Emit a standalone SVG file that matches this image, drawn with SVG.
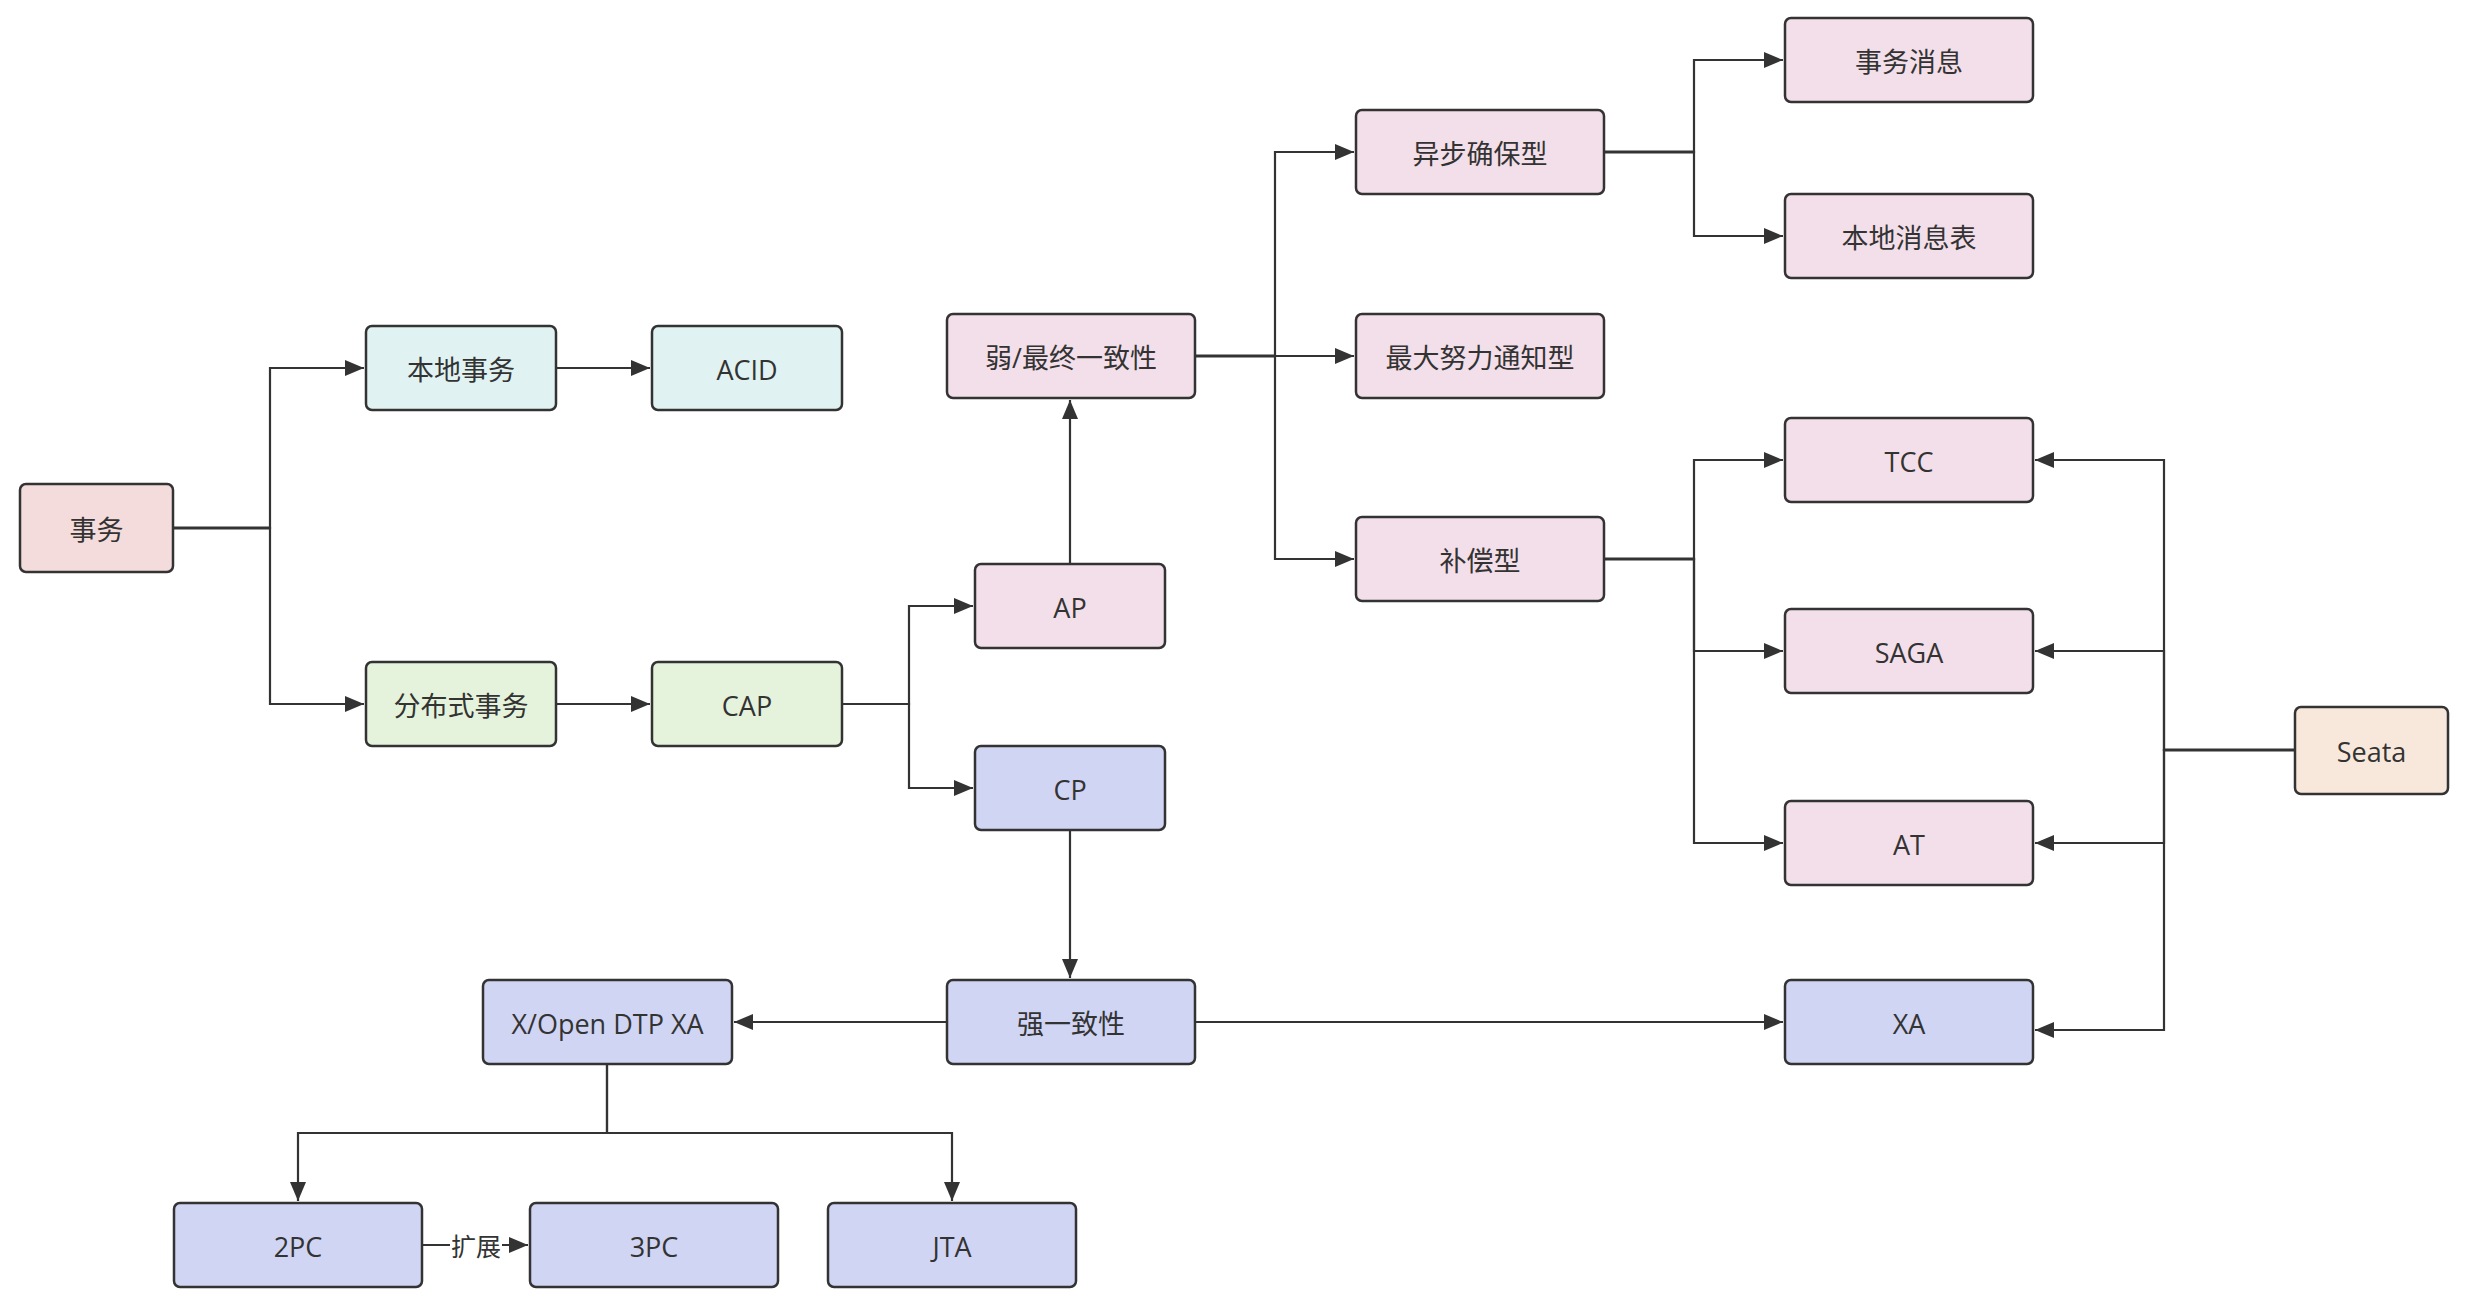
<svg xmlns="http://www.w3.org/2000/svg" width="2468" height="1304" viewBox="0 0 2468 1304">
<style>
.n rect{stroke:#333;stroke-width:2.5}
.n text{font-family:"Open Sans","Noto Sans CJK SC",sans-serif;font-size:27px;fill:#333;text-anchor:middle;dominant-baseline:central}
.red rect{fill:#f5dcdc}
.cyan rect{fill:#e0f3f2}
.green rect{fill:#e6f3dc}
.pink rect{fill:#f3dfea}
.blue rect{fill:#d1d5f4}
.tan rect{fill:#f8e8dc}
#edges path{fill:none;stroke:#333;stroke-width:2.2}
#edges path.trunk{stroke-width:3.2}
#edges text{font-family:"Noto Sans CJK SC",sans-serif;font-size:25px;fill:#333;text-anchor:middle;dominant-baseline:central}
</style>
<defs>
<marker id="ah" markerUnits="userSpaceOnUse" markerWidth="20" markerHeight="16" refX="19" refY="8" orient="auto">
<path d="M0,0 L19,8 L0,16 z" fill="#333"/>
</marker>
</defs>
<rect width="2468" height="1304" fill="#fff"/>
<g id="edges">
<path d="M173,528 H270 V368 H364" marker-end="url(#ah)"/>
<path d="M173,528 H270 V704 H364" marker-end="url(#ah)"/>
<path class="trunk" d="M174,528 H270"/>
<path d="M556,368 H650" marker-end="url(#ah)"/>
<path d="M556,704 H650" marker-end="url(#ah)"/>
<path d="M842,704 H909 V606 H973" marker-end="url(#ah)"/>
<path d="M842,704 H909 V788 H973" marker-end="url(#ah)"/>
<path d="M1070,564 V400" marker-end="url(#ah)"/>
<path d="M1195,356 H1275 V152 H1354" marker-end="url(#ah)"/>
<path d="M1195,356 H1354" marker-end="url(#ah)"/>
<path d="M1195,356 H1275 V559 H1354" marker-end="url(#ah)"/>
<path class="trunk" d="M1196,356 H1275"/>
<path d="M1604,152 H1694 V60 H1783" marker-end="url(#ah)"/>
<path d="M1604,152 H1694 V236 H1783" marker-end="url(#ah)"/>
<path class="trunk" d="M1605,152 H1694"/>
<path d="M1604,559 H1694 V460 H1783" marker-end="url(#ah)"/>
<path d="M1604,559 H1694 V651 H1783" marker-end="url(#ah)"/>
<path d="M1604,559 H1694 V843 H1783" marker-end="url(#ah)"/>
<path class="trunk" d="M1605,559 H1694"/>
<path d="M2295,750 H2164 V460 H2035" marker-end="url(#ah)"/>
<path d="M2295,750 H2164 V651 H2035" marker-end="url(#ah)"/>
<path d="M2295,750 H2164 V843 H2035" marker-end="url(#ah)"/>
<path d="M2295,750 H2164 V1030 H2035" marker-end="url(#ah)"/>
<path class="trunk" d="M2294,750 H2164"/>
<path d="M1070,829 V978" marker-end="url(#ah)"/>
<path d="M947,1022 H734" marker-end="url(#ah)"/>
<path d="M1195,1022 H1783" marker-end="url(#ah)"/>
<path d="M607,1064 V1133 H298 V1201" marker-end="url(#ah)"/>
<path d="M607,1064 V1133 H952 V1201" marker-end="url(#ah)"/>
<path d="M422,1245 H528" marker-end="url(#ah)"/>
<rect x="450" y="1230" width="52" height="30" fill="#fff"/>
<text x="476" y="1245">扩展</text>
</g>
<g id="n-shiwu" class="n red"><rect x="20" y="484" width="153" height="88" rx="6"/><text x="96.5" y="529">事务</text></g>
<g id="n-bendi" class="n cyan"><rect x="366" y="326" width="190" height="84" rx="6"/><text x="461" y="369">本地事务</text></g>
<g id="n-acid" class="n cyan"><rect x="652" y="326" width="190" height="84" rx="6"/><text x="747" y="369">ACID</text></g>
<g id="n-fenbushi" class="n green"><rect x="366" y="662" width="190" height="84" rx="6"/><text x="461" y="705">分布式事务</text></g>
<g id="n-cap" class="n green"><rect x="652" y="662" width="190" height="84" rx="6"/><text x="747" y="705">CAP</text></g>
<g id="n-ap" class="n pink"><rect x="975" y="564" width="190" height="84" rx="6"/><text x="1070" y="607">AP</text></g>
<g id="n-cp" class="n blue"><rect x="975" y="746" width="190" height="84" rx="6"/><text x="1070" y="789">CP</text></g>
<g id="n-ruo" class="n pink"><rect x="947" y="314" width="248" height="84" rx="6"/><text x="1071" y="357">弱/最终一致性</text></g>
<g id="n-yibu" class="n pink"><rect x="1356" y="110" width="248" height="84" rx="6"/><text x="1480" y="153">异步确保型</text></g>
<g id="n-zuida" class="n pink"><rect x="1356" y="314" width="248" height="84" rx="6"/><text x="1480" y="357">最大努力通知型</text></g>
<g id="n-buchang" class="n pink"><rect x="1356" y="517" width="248" height="84" rx="6"/><text x="1480" y="560">补偿型</text></g>
<g id="n-xiaoxi" class="n pink"><rect x="1785" y="18" width="248" height="84" rx="6"/><text x="1909" y="61">事务消息</text></g>
<g id="n-bendixiaoxi" class="n pink"><rect x="1785" y="194" width="248" height="84" rx="6"/><text x="1909" y="237">本地消息表</text></g>
<g id="n-tcc" class="n pink"><rect x="1785" y="418" width="248" height="84" rx="6"/><text x="1909" y="461">TCC</text></g>
<g id="n-saga" class="n pink"><rect x="1785" y="609" width="248" height="84" rx="6"/><text x="1909" y="652">SAGA</text></g>
<g id="n-at" class="n pink"><rect x="1785" y="801" width="248" height="84" rx="6"/><text x="1909" y="844">AT</text></g>
<g id="n-xa" class="n blue"><rect x="1785" y="980" width="248" height="84" rx="6"/><text x="1909" y="1023">XA</text></g>
<g id="n-seata" class="n tan"><rect x="2295" y="707" width="153" height="87" rx="6"/><text x="2371.5" y="751">Seata</text></g>
<g id="n-qiang" class="n blue"><rect x="947" y="980" width="248" height="84" rx="6"/><text x="1071" y="1023">强一致性</text></g>
<g id="n-xopen" class="n blue"><rect x="483" y="980" width="249" height="84" rx="6"/><text x="607.5" y="1023">X/Open DTP XA</text></g>
<g id="n-2pc" class="n blue"><rect x="174" y="1203" width="248" height="84" rx="6"/><text x="298" y="1246">2PC</text></g>
<g id="n-3pc" class="n blue"><rect x="530" y="1203" width="248" height="84" rx="6"/><text x="654" y="1246">3PC</text></g>
<g id="n-jta" class="n blue"><rect x="828" y="1203" width="248" height="84" rx="6"/><text x="952" y="1246">JTA</text></g>
</svg>
